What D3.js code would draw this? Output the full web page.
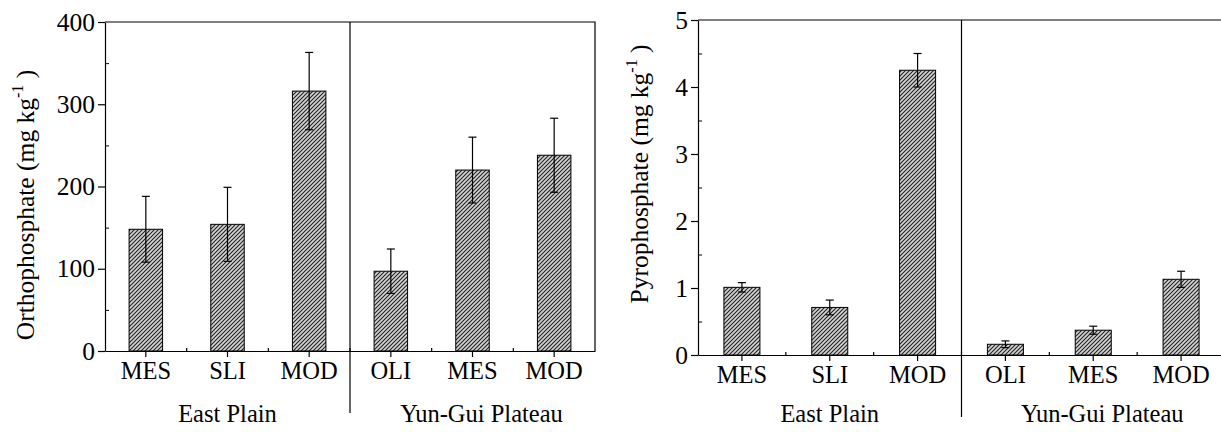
<!DOCTYPE html>
<html>
<head>
<meta charset="utf-8">
<script src="https://cdn.jsdelivr.net/npm/d3@7"></script>
<style>
  body { margin: 0; background: #fff; }
  svg { display: block; font-family: "Liberation Serif", "Times New Roman", serif; }
</style>
</head>
<body>
<div id="chart"></div>
<script>
// Data
var categories = ["MES", "SLI", "MOD", "OLI", "MES", "MOD"];
var groups = ["East Plain", "Yun-Gui Plateau"];
var groupCenters = [1, 4]; // category index each group label sits under
var orthoValues = [148, 154, 316, 97, 220, 238];
var orthoErrors = [40, 45, 47, 27, 40, 45];
var pyroValues = [1.01, 0.71, 4.25, 0.16, 0.37, 1.13];
var pyroErrors = [0.07, 0.11, 0.25, 0.05, 0.06, 0.12];
var orthoTicks = [0, 100, 200, 300, 400];
var orthoMinor = [50, 150, 250, 350];
var pyroTicks = [0, 1, 2, 3, 4, 5];
var pyroMinor = [0.5, 1.5, 2.5, 3.5, 4.5];

var W = 1221, H = 432;
var FONT = "'Liberation Serif', 'Times New Roman', serif";

var svg = d3.select("#chart").append("svg")
    .attr("width", W)
    .attr("height", H);

// hatch pattern for the bars
var defs = svg.append("defs");
var pat = defs.append("pattern")
    .attr("id", "hatch")
    .attr("patternUnits", "userSpaceOnUse")
    .attr("width", 4)
    .attr("height", 4);
pat.append("rect").attr("width", 4).attr("height", 4).attr("fill", "#d2d2d2");
pat.append("path")
    .attr("d", "M-1,1 l2,-2 M0,4 l4,-4 M3,5 l2,-2")
    .attr("stroke", "#222")
    .attr("stroke-width", 1.1);

// draws one panel
function drawPanel(opt) {
    var g = svg.append("g");
    var left = opt.left, right = opt.right, top = opt.top, bottom = opt.bottom;

    var x = d3.scaleBand()
        .domain(d3.range(categories.length))
        .range([left, right])
        .padding(0);
    var y = d3.scaleLinear()
        .domain(opt.domain)
        .range([bottom, top]);

    var bw = x.bandwidth() * 0.41;

    // bars
    g.selectAll("rect.bar")
        .data(opt.values)
        .enter()
        .append("rect")
        .attr("class", "bar")
        .attr("x", function(d, i) { return x(i) + x.bandwidth() / 2 - bw / 2; })
        .attr("y", function(d) { return y(d); })
        .attr("width", bw)
        .attr("height", function(d) { return y(0) - y(d); })
        .attr("fill", "url(#hatch)")
        .attr("stroke", "#000")
        .attr("stroke-width", 1);

    // error bars
    var eb = g.selectAll("g.err")
        .data(opt.values)
        .enter()
        .append("g")
        .attr("class", "err")
        .attr("stroke", "#000")
        .attr("stroke-width", 1.2);
    eb.append("line")
        .attr("x1", function(d, i) { return x(i) + x.bandwidth() / 2; })
        .attr("x2", function(d, i) { return x(i) + x.bandwidth() / 2; })
        .attr("y1", function(d, i) { return y(d - opt.errors[i]); })
        .attr("y2", function(d, i) { return y(d + opt.errors[i]); });
    eb.append("line")
        .attr("x1", function(d, i) { return x(i) + x.bandwidth() / 2 - 4; })
        .attr("x2", function(d, i) { return x(i) + x.bandwidth() / 2 + 4; })
        .attr("y1", function(d, i) { return y(d + opt.errors[i]); })
        .attr("y2", function(d, i) { return y(d + opt.errors[i]); });
    eb.append("line")
        .attr("x1", function(d, i) { return x(i) + x.bandwidth() / 2 - 4; })
        .attr("x2", function(d, i) { return x(i) + x.bandwidth() / 2 + 4; })
        .attr("y1", function(d, i) { return y(d - opt.errors[i]); })
        .attr("y2", function(d, i) { return y(d - opt.errors[i]); });

    // frame (top and right)
    g.append("path")
        .attr("d", "M" + left + "," + top + "H" + right + "V" + bottom)
        .attr("fill", "none")
        .attr("stroke", "#000")
        .attr("stroke-width", 1.2);

    // y axis, major ticks outside
    var yAxis = d3.axisLeft(y)
        .tickValues(opt.ticks)
        .tickSize(7)
        .tickSizeOuter(0)
        .tickPadding(3)
        .tickFormat(d3.format("d"));
    var ya = g.append("g")
        .attr("transform", "translate(" + left + ",0)")
        .call(yAxis);
    // minor ticks inside
    g.append("g")
        .attr("transform", "translate(" + left + ",0)")
        .call(d3.axisRight(y).tickValues(opt.minor).tickSize(4).tickSizeOuter(0).tickFormat(""))
        .select(".domain").remove();

    // x axis, ticks at category centres
    var xAxis = d3.axisBottom(x)
        .tickSize(6)
        .tickSizeOuter(0)
        .tickPadding(5)
        .tickFormat(function(d) { return categories[d]; });
    var xa = g.append("g")
        .attr("transform", "translate(0," + bottom + ")")
        .call(xAxis);
    // minor ticks at the category boundaries, pointing in
    var bounds = d3.range(1, categories.length).map(function(i) { return x(i); });
    g.selectAll("line.xminor")
        .data(bounds)
        .enter()
        .append("line")
        .attr("class", "xminor")
        .attr("x1", function(d) { return d; })
        .attr("x2", function(d) { return d; })
        .attr("y1", bottom)
        .attr("y2", bottom - 3)
        .attr("stroke", "#000")
        .attr("stroke-width", 1.2);

    [ya, xa].forEach(function(a, k) {
        a.attr("font-family", null).attr("font-size", null);
        a.selectAll("path, line").attr("stroke", "#000").attr("stroke-width", 1.2);
        a.selectAll("text")
            .attr("fill", "#000")
            .style("font-family", FONT)
            .style("font-size", k === 0 ? "25.5px" : "24.5px");
    });

    // group separator
    var sep = x(3);
    g.append("line")
        .attr("x1", sep).attr("x2", sep)
        .attr("y1", top).attr("y2", bottom + 62)
        .attr("stroke", "#000")
        .attr("stroke-width", 1.2);

    // group labels
    g.selectAll("text.group")
        .data(groups)
        .enter()
        .append("text")
        .attr("class", "group")
        .attr("x", function(d, i) { return x(groupCenters[i]) + x.bandwidth() / 2 + (i === 1 ? 9 : 0); })
        .attr("y", 422)
        .attr("text-anchor", "middle")
        .style("font-family", FONT)
        .style("font-size", "24.5px")
        .text(function(d) { return d; });

    // y title
    var t = g.append("text")
        .attr("transform", "translate(" + opt.titleX + "," + opt.titleY + ") rotate(-90)")
        .attr("text-anchor", "middle")
        .style("font-family", FONT)
        .style("font-size", "25.5px");
    t.append("tspan").text(opt.title + " (mg kg");
    t.append("tspan").attr("dy", -11).style("font-size", "16px").text("-1");
    t.append("tspan").attr("dy", 11).text(" )");
}

drawPanel({
    left: 105, right: 595, top: 22, bottom: 351,
    domain: [0, 400], ticks: orthoTicks, minor: orthoMinor,
    values: orthoValues, errors: orthoErrors,
    title: "Orthophosphate", titleX: 34, titleY: 205
});

drawPanel({
    left: 698, right: 1225, top: 20, bottom: 355,
    domain: [0, 5], ticks: pyroTicks, minor: pyroMinor,
    values: pyroValues, errors: pyroErrors,
    title: "Pyrophosphate", titleX: 648, titleY: 174
});
</script>
</body>
</html>
